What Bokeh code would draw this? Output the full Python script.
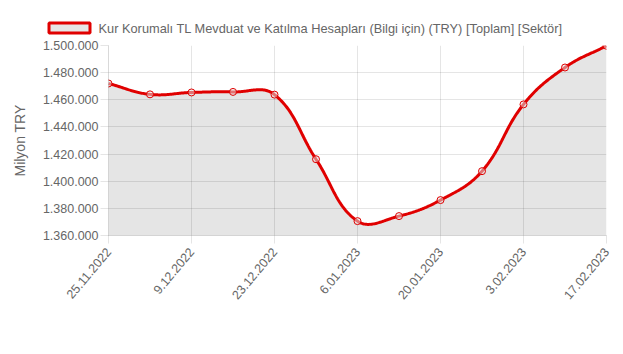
import math
from bokeh.plotting import figure
from bokeh.layouts import column
from bokeh.models import FixedTicker, Range1d
from bokeh.core.properties import value
from bokeh.embed import file_html
from bokeh.resources import INLINE

# ---- data ----
dates = ["25.11.2022", "2.12.2022", "9.12.2022", "16.12.2022", "23.12.2022",
         "30.12.2022", "6.01.2023", "13.01.2023", "20.01.2023", "27.01.2023",
         "3.02.2023", "10.02.2023", "17.02.2023"]
values = [1472000, 1464000, 1465400, 1465800, 1463800, 1416200, 1370600,
          1374300, 1386100, 1407400, 1456600, 1483800, 1499800]
y_ticks = [1360000, 1380000, 1400000, 1420000, 1440000, 1460000, 1480000, 1500000]
y_tick_labels = ["1.360.000", "1.380.000", "1.400.000", "1.420.000",
                 "1.440.000", "1.460.000", "1.480.000", "1.500.000"]
x_tick_idx = [0, 2, 4, 6, 8, 10, 12]
series_name = "Kur Korumalı TL Mevduat ve Katılma Hesapları (Bilgi için) (TRY) [Toplam] [Sektör]"
y_title = "Milyon TRY"

RED = "#e00000"
FONT = "Liberation Sans"
TXT = "#666666"

Y0, Y1 = y_ticks[0], y_ticks[-1]
n = len(values)
FW, FH = 498.0, 190.0  # frame size in px, used for spline tension geometry


def to_px(x, y):
    return x * FW / (n - 1), (y - Y0) * FH / (Y1 - Y0)


def from_px(px, py):
    return px * (n - 1) / FW, Y0 + py * (Y1 - Y0) / FH


# Chart.js-style cardinal bezier (tension 0.4)
P = [to_px(i, v) for i, v in enumerate(values)]
T = 0.4
cp_prev, cp_next = [], []
for i in range(n):
    prv = P[i - 1] if i > 0 else P[i]
    cur = P[i]
    nxt = P[i + 1] if i < n - 1 else P[i]
    d01 = math.hypot(cur[0] - prv[0], cur[1] - prv[1])
    d12 = math.hypot(nxt[0] - cur[0], nxt[1] - cur[1])
    tot = d01 + d12
    s01 = d01 / tot if tot else 0.0
    s12 = d12 / tot if tot else 0.0
    fa, fb = T * s01, T * s12
    a = (cur[0] - fa * (nxt[0] - prv[0]), cur[1] - fa * (nxt[1] - prv[1]))
    b = (cur[0] + fb * (nxt[0] - prv[0]), cur[1] + fb * (nxt[1] - prv[1]))
    a = (min(max(a[0], 0), FW), min(max(a[1], 0), FH))
    b = (min(max(b[0], 0), FW), min(max(b[1], 0), FH))
    cp_prev.append(a)
    cp_next.append(b)

cx, cy = [], []
STEPS = 40
for i in range(n - 1):
    p0, p1, p2, p3 = P[i], cp_next[i], cp_prev[i + 1], P[i + 1]
    for k in range(STEPS + (1 if i == n - 2 else 0)):
        t = k / STEPS
        u = 1 - t
        px = u**3 * p0[0] + 3 * u * u * t * p1[0] + 3 * u * t * t * p2[0] + t**3 * p3[0]
        py = u**3 * p0[1] + 3 * u * u * t * p1[1] + 3 * u * t * t * p2[1] + t**3 * p3[1]
        dx, dy = from_px(px, py)
        cx.append(dx)
        cy.append(dy)

# ---- legend strip (top) ----
LEG_H = 40
BOT_H = 4
leg = figure(width=623, height=LEG_H, output_backend="svg", toolbar_location=None,
             x_range=Range1d(0, 623), y_range=Range1d(0, LEG_H),
             x_axis_location=None, y_axis_location=None,
             min_border=0, min_border_left=0, min_border_right=0,
             min_border_top=0, min_border_bottom=0)
leg.frame_align = False
leg.outline_line_color = None
leg.grid.visible = False
leg.rect(x=[69], y=[LEG_H - 27.5], width=[41], height=[10],
         fill_color="#e6e6e6", line_color=RED, line_width=3)
leg.text(x=[98], y=[LEG_H - 27.5], text=[series_name],
         text_font=value(FONT), text_font_size="12.8px", text_color=TXT,
         text_baseline="middle", text_align="left")

# ---- main chart ----
p = figure(width=623, height=354 - LEG_H - BOT_H, output_backend="svg",
           toolbar_location=None,
           x_range=Range1d(0, n - 1), y_range=Range1d(Y0, Y1),
           min_border_left=108, min_border_right=17, min_border_top=45 - LEG_H,
           min_border_bottom=119 - BOT_H)
p.frame_align = False
p.outline_line_color = None
p.background_fill_color = "white"
p.border_fill_color = "white"

p.varea(x=cx, y1=[Y0] * len(cx), y2=cy, fill_color="black", fill_alpha=0.1)
p.line(cx, cy, line_color=RED, line_width=3)
p.scatter(list(range(n)), values, size=7, line_color=RED, line_width=1,
          fill_color="#e6e6e6", fill_alpha=0.5)

# axes
p.xaxis.ticker = FixedTicker(ticks=x_tick_idx)
p.xaxis.major_label_overrides = {i: dates[i] for i in x_tick_idx}
p.xaxis.major_label_orientation = math.radians(50)
p.yaxis.ticker = FixedTicker(ticks=y_ticks)
p.yaxis.major_label_overrides = {t: s for t, s in zip(y_ticks, y_tick_labels)}
p.yaxis.axis_label = y_title
p.yaxis.axis_label_text_font = FONT
p.yaxis.axis_label_text_font_size = "14px"
p.yaxis.axis_label_text_font_style = "normal"
p.yaxis.axis_label_text_color = TXT
p.yaxis.axis_label_standoff = 12

for ax in (p.xaxis, p.yaxis):
    ax.major_label_text_font = FONT
    ax.major_label_text_font_size = "12.5px"
    ax.major_label_text_color = TXT
    ax.minor_tick_line_color = None
    ax.major_tick_line_color = "black"
    ax.major_tick_line_alpha = 0.1
    ax.major_tick_in = 0
    ax.major_tick_out = 8
    ax.axis_line_color = "black"
    ax.axis_line_alpha = 0.15
p.yaxis.major_label_standoff = 2
p.xaxis.major_label_standoff = 6

p.grid.grid_line_color = "black"
p.grid.grid_line_alpha = 0.1

# ---- thin page border line at the bottom ----
bot = figure(width=623, height=BOT_H, output_backend="svg", toolbar_location=None,
             x_range=Range1d(0, 1), y_range=Range1d(0, BOT_H),
             x_axis_location=None, y_axis_location=None,
             min_border=0, min_border_left=0, min_border_right=0,
             min_border_top=0, min_border_bottom=0)
bot.frame_align = False
bot.outline_line_color = None
bot.grid.visible = False
bot.quad(left=[0], right=[1], bottom=[BOT_H - 2], top=[BOT_H],
         fill_color="#e3e3e3", line_color=None)

layout = column(leg, p, bot, spacing=0)
open("out.html", "w").write(file_html(layout, INLINE))
